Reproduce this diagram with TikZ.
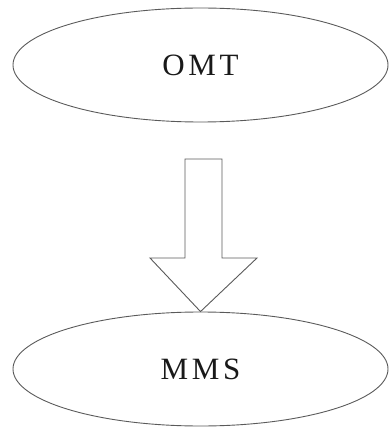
\documentclass[tikz,border=0pt]{standalone}
\usepackage{fontspec}
\setmainfont{Liberation Serif}
\newfontfamily\spacedfont[LetterSpace=12]{Liberation Serif}
\usetikzlibrary{shapes.geometric}
\definecolor{linegray}{RGB}{90,90,90}
\definecolor{textgray}{RGB}{25,25,25}
\begin{document}
\begin{tikzpicture}[x=1pt,y=-1pt,
  oval/.style={ellipse,draw=linegray,line width=0.9pt,minimum width=375pt,minimum height=114pt,inner sep=0pt,
    font=\spacedfont\fontsize{31}{31}\selectfont,text=textgray}]
\useasboundingbox (0,0) rectangle (389,427);
\node[oval] (omt) at (200.5,65) {OMT};
\node[oval] (mms) at (200.5,369) {MMS};
\draw[linegray,line width=0.9pt,fill=white]
  (185,159) -- (222,159) -- (222,258) -- (257,258) -- (mms.north) -- (150,258) -- (185,258) -- cycle;
\end{tikzpicture}
\end{document}
